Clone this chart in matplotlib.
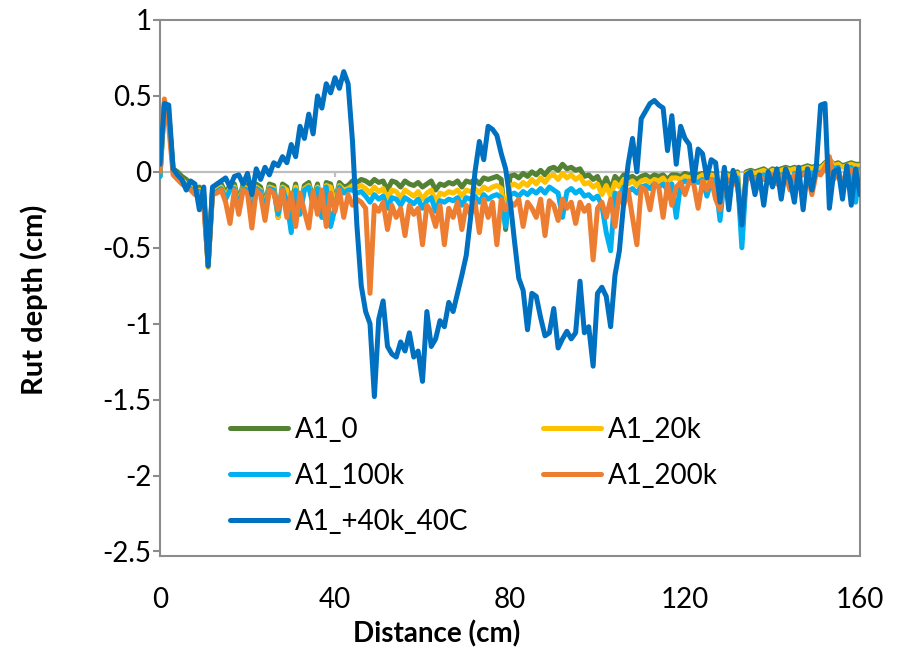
import matplotlib
matplotlib.use("Agg")
import matplotlib.pyplot as plt
import numpy as np

# ---------------- data ----------------
distance = np.arange(0, 161, 1)  # cm

a1_0 = [
    -0.03, 0.44, 0.38, 0.02, 0.00, -0.03, -0.05, -0.08, -0.12, -0.10,
    -0.15, -0.60, -0.12, -0.10, -0.08, -0.14, -0.09, -0.08, -0.20, -0.08,
    -0.09, -0.26, -0.08, -0.10, -0.22, -0.08, -0.09, -0.30, -0.08, -0.10,
    -0.22, -0.08, -0.25, -0.09, -0.07, -0.18, -0.08, -0.28, -0.07, -0.08,
    -0.20, -0.07, -0.10, -0.09, -0.06, -0.07, -0.05, -0.06, -0.08, -0.05,
    -0.07, -0.06, -0.12, -0.06, -0.07, -0.10, -0.06, -0.08, -0.09, -0.07,
    -0.10, -0.08, -0.06, -0.12, -0.08, -0.09, -0.07, -0.08, -0.06, -0.10,
    -0.06, -0.07, -0.05, -0.08, -0.04, -0.05, -0.04, -0.03, -0.05, -0.38,
    -0.03, -0.02, -0.04, -0.01, -0.03, 0.00, -0.02, 0.01, -0.02, 0.02,
    0.03, 0.01, 0.05, 0.02, 0.03, 0.01, 0.02, -0.03, -0.02, -0.05,
    -0.03, -0.10, -0.04, -0.12, -0.03, -0.06, -0.02, -0.04, -0.03, -0.05,
    -0.03, -0.02, -0.04, -0.02, -0.03, -0.02, -0.05, -0.02, -0.02, -0.03,
    -0.01, -0.02, -0.01, -0.02, -0.01, -0.10, -0.01, -0.02, -0.25, 0.00,
    -0.02, -0.01, 0.00, -0.40, 0.00, 0.01, 0.00, 0.01, 0.02, 0.00,
    0.02, 0.01, 0.02, 0.03, 0.02, 0.03, 0.02, 0.03, 0.04, 0.03,
    0.04, 0.03, 0.06, 0.08, 0.05, 0.06, 0.04, 0.05, 0.06, 0.05,
    0.05,
]

a1_20k = [
    -0.02, 0.44, 0.38, 0.01, -0.02, -0.05, -0.08, -0.10, -0.13, -0.12,
    -0.18, -0.63, -0.13, -0.12, -0.10, -0.16, -0.11, -0.10, -0.22, -0.10,
    -0.11, -0.28, -0.10, -0.12, -0.24, -0.10, -0.11, -0.30, -0.10, -0.12,
    -0.38, -0.10, -0.26, -0.11, -0.09, -0.20, -0.10, -0.30, -0.09, -0.10,
    -0.22, -0.09, -0.12, -0.11, -0.09, -0.10, -0.09, -0.11, -0.14, -0.10,
    -0.13, -0.11, -0.18, -0.12, -0.13, -0.17, -0.12, -0.14, -0.16, -0.13,
    -0.18, -0.14, -0.12, -0.20, -0.14, -0.15, -0.13, -0.14, -0.12, -0.16,
    -0.12, -0.13, -0.11, -0.14, -0.10, -0.12, -0.10, -0.09, -0.11, -0.30,
    -0.09, -0.08, -0.10, -0.07, -0.09, -0.05, -0.08, -0.04, -0.07, -0.03,
    -0.02, -0.05, -0.01, -0.04, -0.02, -0.05, -0.03, -0.08, -0.07, -0.10,
    -0.08, -0.15, -0.09, -0.16, -0.07, -0.10, -0.05, -0.08, -0.06, -0.09,
    -0.06, -0.05, -0.07, -0.05, -0.06, -0.04, -0.08, -0.04, -0.04, -0.05,
    -0.03, -0.04, -0.03, -0.04, -0.02, -0.12, -0.02, -0.03, -0.28, -0.01,
    -0.03, -0.02, -0.01, -0.42, -0.01, 0.00, -0.01, 0.00, 0.01, -0.01,
    0.01, 0.00, 0.01, 0.02, 0.01, 0.02, 0.01, 0.02, 0.03, 0.02,
    0.03, 0.02, 0.05, 0.08, 0.04, 0.05, 0.03, 0.04, 0.05, 0.04,
    0.04,
]

a1_100k = [
    -0.03, 0.44, 0.37, 0.00, -0.03, -0.06, -0.09, -0.11, -0.14, -0.13,
    -0.20, -0.62, -0.14, -0.13, -0.11, -0.18, -0.12, -0.11, -0.24, -0.11,
    -0.12, -0.30, -0.11, -0.13, -0.26, -0.11, -0.12, -0.28, -0.11, -0.20,
    -0.40, -0.12, -0.28, -0.12, -0.10, -0.22, -0.11, -0.30, -0.10, -0.36,
    -0.24, -0.10, -0.14, -0.12, -0.12, -0.14, -0.13, -0.16, -0.20, -0.15,
    -0.18, -0.16, -0.24, -0.17, -0.18, -0.22, -0.17, -0.19, -0.21, -0.18,
    -0.24, -0.19, -0.17, -0.26, -0.19, -0.20, -0.18, -0.19, -0.17, -0.22,
    -0.17, -0.18, -0.16, -0.20, -0.15, -0.18, -0.16, -0.15, -0.17, -0.36,
    -0.15, -0.14, -0.16, -0.13, -0.15, -0.12, -0.14, -0.11, -0.14, -0.10,
    -0.12, -0.14, -0.30, -0.13, -0.11, -0.14, -0.12, -0.16, -0.15, -0.18,
    -0.16, -0.22, -0.40, -0.52, -0.14, -0.16, -0.10, -0.13, -0.11, -0.14,
    -0.10, -0.09, -0.11, -0.08, -0.10, -0.08, -0.12, -0.08, -0.30, -0.08,
    -0.06, -0.07, -0.06, -0.07, -0.05, -0.16, -0.05, -0.06, -0.32, -0.04,
    -0.06, -0.05, -0.04, -0.50, -0.04, -0.03, -0.04, -0.03, -0.02, -0.04,
    -0.02, -0.03, -0.02, -0.01, -0.10, -0.01, -0.02, -0.01, 0.00, -0.01,
    0.00, -0.01, 0.02, 0.06, 0.02, 0.03, -0.12, 0.02, 0.03, -0.20,
    0.02,
]

a1_200k = [
    0.00, 0.48, 0.30, -0.02, -0.05, -0.08, -0.10, -0.12, -0.15, -0.14,
    -0.22, -0.62, -0.15, -0.14, -0.12, -0.20, -0.34, -0.12, -0.28, -0.12,
    -0.14, -0.37, -0.12, -0.15, -0.32, -0.12, -0.14, -0.25, -0.12, -0.30,
    -0.14, -0.36, -0.14, -0.26, -0.37, -0.13, -0.28, -0.12, -0.36, -0.14,
    -0.26, -0.12, -0.30, -0.15, -0.22, -0.18, -0.20, -0.24, -0.80, -0.22,
    -0.26, -0.20, -0.38, -0.22, -0.30, -0.24, -0.42, -0.22, -0.28, -0.24,
    -0.48, -0.22, -0.26, -0.36, -0.22, -0.48, -0.24, -0.30, -0.20, -0.38,
    -0.22, -0.28, -0.20, -0.40, -0.18, -0.30, -0.20, -0.48, -0.18, -0.25,
    -0.20, -0.22, -0.18, -0.36, -0.20, -0.24, -0.30, -0.18, -0.42, -0.19,
    -0.22, -0.32, -0.18, -0.24, -0.20, -0.34, -0.20, -0.26, -0.22, -0.58,
    -0.24, -0.20, -0.30, -0.18, -0.36, -0.14, -0.22, -0.12, -0.30, -0.48,
    -0.10, -0.12, -0.25, -0.08, -0.10, -0.30, -0.08, -0.22, -0.10, -0.07,
    -0.15, -0.06, -0.08, -0.24, -0.06, -0.12, -0.05, -0.18, -0.25, -0.04,
    -0.06, -0.05, -0.10, -0.32, -0.05, -0.04, -0.05, -0.03, -0.05, -0.06,
    -0.02, -0.08, -0.03, -0.02, -0.12, -0.02, -0.03, -0.02, -0.01, -0.15,
    -0.01, -0.02, 0.03, 0.10, -0.05, 0.00, -0.10, 0.02, 0.01, -0.05,
    0.00,
]

a1_40k_40c = [
    0.05, 0.45, 0.44, 0.02, -0.02, -0.05, -0.12, -0.06, -0.08, -0.25,
    -0.10, -0.62, -0.10, -0.08, -0.06, -0.04, -0.10, -0.03, -0.02, -0.08,
    -0.01, -0.15, 0.02, -0.05, 0.03, -0.02, 0.06, 0.04, 0.10, 0.06,
    0.18, 0.10, 0.30, 0.22, 0.38, 0.25, 0.50, 0.42, 0.58, 0.52,
    0.62, 0.55, 0.66, 0.58, 0.20, -0.35, -0.75, -0.92, -1.00, -1.48,
    -0.97, -0.85, -1.15, -1.20, -1.22, -1.12, -1.18, -1.06, -1.22, -1.18,
    -1.38, -0.92, -1.15, -1.10, -0.98, -1.02, -0.86, -0.92, -0.80, -0.68,
    -0.55, -0.30, 0.00, 0.20, 0.08, 0.30, 0.28, 0.24, 0.12, 0.02,
    -0.18, -0.45, -0.70, -0.78, -1.04, -0.80, -0.82, -0.96, -1.08, -1.06,
    -0.90, -1.16, -1.10, -1.05, -1.10, -1.06, -0.72, -1.06, -1.02, -1.28,
    -0.80, -0.76, -0.82, -1.02, -0.68, -0.52, -0.20, 0.05, 0.22, 0.00,
    0.35, 0.40, 0.45, 0.47, 0.44, 0.42, 0.14, 0.37, 0.05, 0.30,
    0.22, 0.18, -0.06, 0.15, 0.12, -0.04, 0.08, 0.06, -0.20, 0.03,
    -0.25, 0.01, -0.08, -0.35, -0.02, 0.00, -0.15, -0.02, -0.22, 0.00,
    -0.10, 0.02, -0.18, 0.02, -0.05, -0.20, 0.03, -0.25, 0.02, -0.12,
    0.03, 0.44, 0.45, -0.24, 0.00, 0.02, -0.18, 0.04, -0.22, 0.02,
    -0.15,
]

series_names = ["A1_0", "A1_20k", "A1_100k", "A1_200k", "A1_+40k_40C"]
series_values = [a1_0, a1_20k, a1_100k, a1_200k, a1_40k_40c]
series_colors = ["#548235", "#FFC000", "#00B0F0", "#ED7D31", "#0070C0"]

x_ticks = [0, 40, 80, 120, 160]
y_ticks = [-2.5, -2, -1.5, -1, -0.5, 0, 0.5, 1]
y_tick_labels = ["-2.5", "-2", "-1.5", "-1", "-0.5", "0", "0.5", "1"]

# ---------------- figure ----------------
plt.rcParams["font.family"] = ["Lato", "DejaVu Sans"]

W, H = 899, 652
fig = plt.figure(figsize=(W / 100, H / 100), dpi=100)
ax = fig.add_axes([160 / W, 1 - 556 / H, 700 / W, 536 / H])

handles = {}
for name, vals, col in zip(series_names, series_values, series_colors):
    (ln,) = ax.plot(distance, vals, color=col, lw=3.6, solid_joinstyle="round",
                    solid_capstyle="round", zorder=3)
    handles[name] = ln

ax.set_xlim(0, 160)
ax.set_ylim(-2.53, 1.0)

# zero (category) axis line with tick marks
ax.axhline(0, color="#BFBFBF", lw=1.6, zorder=1)
ax.vlines(x_ticks[1:-1], -0.035, 0, color="#BFBFBF", lw=1.6, zorder=1)

for s in ax.spines.values():
    s.set_color("#8C8C8C")
    s.set_linewidth(1.5)

ax.set_yticks(y_ticks)
ax.set_yticklabels(y_tick_labels)
ax.set_xticks(x_ticks)
ax.set_xticklabels([str(v) for v in x_ticks])
ax.tick_params(axis="y", direction="out", length=5, width=1.5, color="#8C8C8C",
               labelsize=20, pad=1)
ax.tick_params(axis="x", length=0, labelsize=20, pad=22)

ax.set_xlabel("Distance (cm)", fontsize=20, fontweight="bold")
ax.xaxis.set_label_coords((437 - 160) / 700, -(620 - 556) / 536)
ax.set_ylabel("Rut depth (cm)", fontsize=21, fontweight="bold")
ax.yaxis.set_label_coords(-(160 - 48) / 700, (556 - 300) / 536)

order = ["A1_0", "A1_100k", "A1_+40k_40C", "A1_20k", "A1_200k"]
ax.legend([handles[n] for n in order], order, ncol=2, frameon=False,
          fontsize=20, loc="upper left", bbox_to_anchor=((230 - 160) / 700, (556 - 417) / 536),
          handlelength=2.1, handletextpad=0.25, columnspacing=2.67,
          labelspacing=0.72, borderpad=0, borderaxespad=0)

fig.savefig("out.png", dpi=100)
